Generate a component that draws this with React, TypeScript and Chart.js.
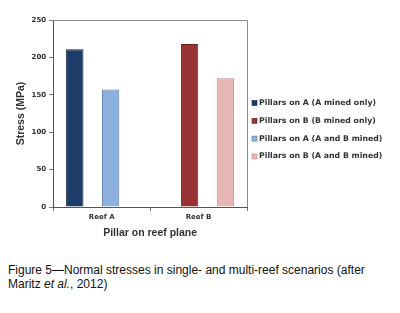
import React, { useEffect, useRef } from "react";
import { Chart, registerables } from "chart.js";

Chart.register(...registerables);

const categories = ["Reef A", "Reef B"];
const seriesLabels = [
  "Pillars on A (A mined only)",
  "Pillars on B (B mined only)",
  "Pillars on A (A and B mined)",
  "Pillars on B (A and B mined)",
];
const aMinedOnly = [211, null];
const bMinedOnly = [null, 218];
const aBothMined = [157, null];
const bBothMined = [null, 172];
const yTicks = [0, 50, 100, 150, 200, 250];

const fills = ["#1d3c6a", "#983333", "#8cb1df", "#e6b6b5"];
const edges = ["#122848", "#6a2020", "#5a7cab", "#bf8b8a"];

const LEGEND = { x: 252, y: 103, step: 17.8, box: 5, gap: 2, font: "bold 7.8px 'DejaVu Sans'" };

const framePlugin = {
  id: "frame",
  afterDraw(chart: any) {
    const { ctx, chartArea } = chart;
    ctx.save();
    ctx.strokeStyle = "#8a8a8a";
    ctx.lineWidth = 1;
    ctx.beginPath();
    ctx.moveTo(chartArea.left, Math.round(chartArea.top) + 0.5);
    ctx.lineTo(Math.round(chartArea.right) + 0.5, Math.round(chartArea.top) + 0.5);
    ctx.lineTo(Math.round(chartArea.right) + 0.5, chartArea.bottom);
    ctx.stroke();
    // legend
    ctx.font = LEGEND.font;
    ctx.textBaseline = "middle";
    ctx.textAlign = "left";
    chart.data.datasets.forEach((ds: any, i: number) => {
      const cy = LEGEND.y + i * LEGEND.step;
      ctx.fillStyle = ds.backgroundColor;
      ctx.fillRect(LEGEND.x, cy - LEGEND.box / 2, LEGEND.box, LEGEND.box);
      ctx.strokeStyle = ds.borderColor;
      ctx.lineWidth = 0.6;
      ctx.strokeRect(LEGEND.x, cy - LEGEND.box / 2, LEGEND.box, LEGEND.box);
      ctx.fillStyle = "#333";
      ctx.fillText(ds.label, LEGEND.x + LEGEND.box + LEGEND.gap, cy);
    });
    ctx.restore();
  },
};

export default function App() {
  const ref = useRef<HTMLCanvasElement>(null);
  useEffect(() => {
    if (!ref.current) return;
    const values = [aMinedOnly, bMinedOnly, aBothMined, bBothMined];
    const font = { family: "DejaVu Sans", weight: "bold" as const, size: 7 };
    const titleFont = { family: "Liberation Sans", weight: "bold" as const, size: 10.5 };
    const chart = new Chart(ref.current, {
      type: "bar",
      data: {
        labels: categories,
        datasets: values.map((v, i) => ({
          label: seriesLabels[i],
          data: v as any,
          backgroundColor: fills[i],
          borderColor: edges[i],
          borderWidth: 1,
          barPercentage: 0.97,
          categoryPercentage: 0.74,
          skipNull: false,
        })),
      },
      options: {
        responsive: false,
        animation: false,
        layout: { padding: { top: 20, left: 15, right: 153, bottom: 6 } },
        plugins: {
          tooltip: { enabled: false },
          legend: { display: false },
        },
        scales: {
          x: {
            grid: { display: true, drawOnChartArea: false, offset: true, tickLength: 4, color: "#777" },
            border: { color: "#555" },
            ticks: { color: "#333", font, padding: 2 },
            title: {
              display: true,
              text: "Pillar on reef plane",
              color: "#333",
              font: titleFont,
              padding: { top: 3, bottom: 0 },
            },
          },
          y: {
            min: 0,
            max: 250,
            afterBuildTicks: (axis: any) => {
              axis.ticks = yTicks.map((v) => ({ value: v }));
            },
            grid: { display: true, drawOnChartArea: false, tickLength: 4, color: "#777" },
            border: { color: "#555" },
            ticks: { color: "#333", font, padding: 3 },
            title: {
              display: true,
              text: "Stress (MPa)",
              color: "#333",
              font: titleFont,
              padding: { top: 0, bottom: 1 },
            },
          },
        },
      },
      plugins: [framePlugin],
    });
    return () => chart.destroy();
  }, []);

  return (
    <div style={{ position: "absolute", left: 0, top: 0, width: 400, height: 313, background: "#fff" }}>
      <canvas ref={ref} width={400} height={245} style={{ position: "absolute", left: 0, top: 0 }} />
      <div
        style={{
          position: "absolute",
          left: 8,
          top: 264,
          width: 385,
          fontFamily: "'Liberation Sans', Arial, sans-serif",
          fontSize: 12,
          lineHeight: "13.5px",
          color: "#111",
        }}
      >
        Figure 5—Normal stresses in single- and multi-reef scenarios (after Maritz <i>et al.</i>, 2012)
      </div>
    </div>
  );
}
